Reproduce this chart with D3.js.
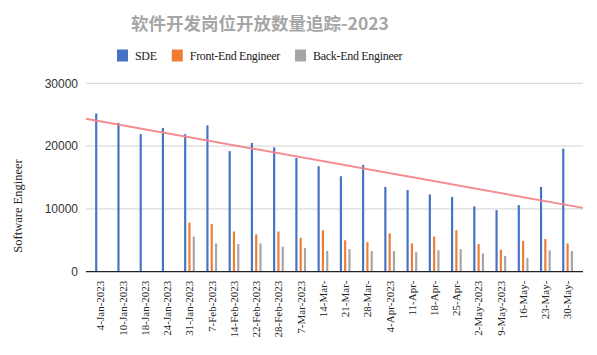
<!DOCTYPE html>
<html>
<head>
<meta charset="utf-8">
<script src="https://cdn.jsdelivr.net/npm/d3@7/dist/d3.min.js"></script>
<style>
  html, body { margin: 0; padding: 0; background: #fff; }
  svg { display: block; }
</style>
</head>
<body>
<svg id="chart" width="597" height="355"></svg>
<script>
const categories = ["4-Jan-2023","10-Jan-2023","18-Jan-2023","24-Jan-2023","31-Jan-2023","7-Feb-2023","14-Feb-2023","22-Feb-2023","28-Feb-2023","7-Mar-2023","14-Mar-","21-Mar-","28-Mar-","4-Apr-2023","11-Apr-","18-Apr-","25-Apr-","2-May-2023","9-May-2023","16-May-","23-May-","30-May-"];
const seriesNames = ["SDE", "Front-End Engineer", "Back-End Engineer"];
const sde = [25200,23700,21900,22900,21900,23300,19200,20500,19800,18100,16800,15200,17000,13500,13000,12300,11900,10400,9800,10600,13500,19600];
const frontEnd = [null,null,null,null,7800,7600,6400,5950,6400,5400,6600,5000,4700,6100,4500,5600,6600,4400,3500,4900,5200,4500];
const backEnd = [null,null,null,null,5600,4500,4400,4500,4000,3800,3300,3600,3300,3300,3100,3400,3600,2900,2500,2200,3400,3300];
const yTicks = [0, 10000, 20000, 30000];
const colors = ["#4472C4", "#ED7D31", "#A5A5A5"];
const titleText = "软件开发岗位开放数量追踪-2023";
const yTitle = "Software Engineer";

const seriesValues = [sde, frontEnd, backEnd];
const svg = d3.select("#chart");
const serif = "'Liberation Serif', 'DejaVu Serif', serif";
const sans = "'Liberation Sans', Arial, sans-serif";

const plotLeft = 86, plotRight = 583, plotTop = 83.3, plotBottom = 271.7;

const y = d3.scaleLinear().domain([0, 30000]).range([plotBottom, plotTop]);
const x = d3.scaleBand().domain(categories).range([89.4, 578.7]).paddingInner(0).paddingOuter(0);
const xs = d3.scaleBand().domain(seriesNames).range([-6.45, 6.45]).paddingInner(0.5).paddingOuter(0.25);

// Title
svg.append("text")
  .attr("x", 260).attr("y", 30)
  .attr("text-anchor", "middle")
  .attr("font-family", "'Noto Sans CJK SC', sans-serif")
  .attr("font-weight", "bold")
  .attr("font-size", 17.5)
  .attr("fill", "#a6a6a6")
  .text(titleText);

// Legend
let lx = 117;
const legend = svg.append("g");
seriesNames.forEach((name, i) => {
  legend.append("rect").attr("x", lx).attr("y", 49.5).attr("width", 11).attr("height", 12).attr("fill", colors[i]);
  const t = legend.append("text")
    .attr("x", lx + 18).attr("y", 60)
    .attr("font-family", serif).attr("font-size", 12).attr("letter-spacing", -0.3).attr("fill", "#222")
    .text(name);
  lx = lx + 18 + t.node().getComputedTextLength() + 15;
});

// Gridlines
svg.append("g").selectAll("line").data(yTicks.filter(d => d > 0)).join("line")
  .attr("x1", plotLeft).attr("x2", plotRight)
  .attr("y1", d => y(d)).attr("y2", d => y(d))
  .attr("stroke", "#d3d3d3").attr("stroke-width", 1);

// Y axis labels
const yAxis = svg.append("g").attr("transform", `translate(${plotLeft},0)`)
  .call(d3.axisLeft(y).tickValues(yTicks).tickSize(0).tickPadding(8).tickFormat(d3.format("d")));
yAxis.select(".domain").remove();
yAxis.selectAll("text").attr("font-family", sans).attr("font-size", 12).attr("fill", "#333");

// Y title
svg.append("text")
  .attr("transform", `translate(22,206) rotate(-90)`)
  .attr("text-anchor", "middle")
  .attr("font-family", serif).attr("font-size", 12.5).attr("fill", "#222")
  .text(yTitle);

// Bars
const groups = svg.append("g").selectAll("g").data(categories).join("g")
  .attr("transform", d => `translate(${x(d) + x.bandwidth() / 2},0)`);
groups.each(function(cat, ci) {
  const g = d3.select(this);
  seriesNames.forEach((s, si) => {
    const v = seriesValues[si][ci];
    if (v == null) return;
    g.append("rect")
      .attr("x", xs(s)).attr("width", xs.bandwidth())
      .attr("y", y(v)).attr("height", y(0) - y(v))
      .attr("fill", colors[si]);
  });
});

// Baseline
svg.append("line").attr("x1", plotLeft).attr("x2", plotRight)
  .attr("y1", y(0)).attr("y2", y(0)).attr("stroke", "#222").attr("stroke-width", 1.3);

// X axis labels
const xAxis = svg.append("g").attr("transform", `translate(0,${y(0)})`)
  .call(d3.axisBottom(x).tickSize(0).tickPadding(0));
xAxis.select(".domain").remove();
xAxis.selectAll("text")
  .attr("font-family", serif).attr("font-size", 11).attr("fill", "#222")
  .attr("text-anchor", "end")
  .attr("transform", "rotate(-90)")
  .attr("x", -9).attr("y", 0).attr("dy", "0.35em");

// Trend line (linear regression on SDE)
const idx = sde.map((_, i) => i);
const mx = d3.mean(idx), my = d3.mean(sde);
const sxy = d3.sum(idx, i => (i - mx) * (sde[i] - my));
const sxx = d3.sum(idx, i => (i - mx) * (i - mx));
const slope = sxy / sxx, intercept = my - slope * mx;
const c0 = x(categories[0]) + x.bandwidth() / 2;
const step = x.step();
const toIdx = px => (px - c0) / step;
const trend = [plotLeft, plotRight].map(px => [px, y(intercept + slope * toIdx(px))]);
svg.append("path")
  .attr("d", d3.line()(trend))
  .attr("stroke", "#f4868b").attr("stroke-width", 2).attr("fill", "none").attr("opacity", 0.95);
</script>
</body>
</html>
